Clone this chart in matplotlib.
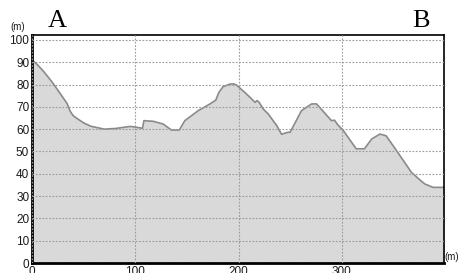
import matplotlib
matplotlib.use("Agg")
import matplotlib.pyplot as plt

# elevation profile (distance in m, altitude in m)
dist = [0, 5, 11, 20, 28, 34, 37, 40, 44.5, 50, 57, 70, 81, 95, 99, 107,
        108.4, 117.5, 127, 135, 142.6, 148, 161, 172, 178, 181, 185, 191.7,
        195, 198, 206, 211, 216, 218, 220, 224, 228.8, 237, 241.7, 248, 250,
        261, 270.8, 275.6, 290, 293, 296, 301.4, 314, 322, 329, 337, 343,
        353, 367.5, 375, 380.5, 388.5, 398, 399]
alt = [91, 89, 86, 80.8, 75.5, 71.5, 68, 66, 64.5, 62.8, 61.3, 60, 60.3,
       61.2, 61, 60.4, 63.8, 63.5, 62.3, 59.6, 59.6, 63.8, 68.3, 71.2, 73,
       76.5, 79, 80.2, 80.3, 79.8, 76.5, 74.3, 72, 72.8, 72, 69, 66.8, 61.6,
       57.7, 58.6, 58.6, 68.3, 71.3, 71.3, 63.8, 64, 62, 59.4, 51.2, 51.2,
       55.6, 57.8, 57, 50.4, 40.6, 37.5, 35.4, 33.9, 33.9, 34]

x_ticks = [0, 100, 200, 300]
y_ticks = [0, 10, 20, 30, 40, 50, 60, 70, 80, 90, 100]

fig = plt.figure(figsize=(4.6, 2.73), dpi=100)
ax = fig.add_axes([32 / 460, 1 - 263 / 273, 412 / 460, 228 / 273])

ax.fill_between(dist, alt, 0, color="#d9d9d9", lw=0)
ax.plot(dist, alt, color="#8a8a8a", lw=1.2)

ax.set_xlim(0, 399)
ax.set_ylim(0, 102.2)
ax.set_xticks(x_ticks)
ax.set_yticks(y_ticks)
ax.grid(True, color="#9a9a9a", linestyle=(0, (1.5, 1.5)), linewidth=0.8)
ax.set_axisbelow(False)

for side in ["left", "bottom"]:
    ax.spines[side].set_linewidth(2)
for side in ["top", "right"]:
    ax.spines[side].set_linewidth(1.2)
ax.tick_params(length=0, pad=2, labelsize=8.5, labelcolor="#1a1a1a")
for lab in ax.get_xticklabels() + ax.get_yticklabels():
    lab.set_family("Liberation Sans")

fig.text(18 / 460, 1 - 30 / 273, "(m)", fontsize=7, ha="center",
         family="Liberation Sans", color="#1a1a1a")
fig.text(452 / 460, 1 - 260 / 273, "(m)", fontsize=7, ha="center",
         family="Liberation Sans", color="#1a1a1a")
fig.text(57 / 460, 1 - 21 / 273, "A", fontsize=19, ha="center", va="center",
         family="Liberation Serif")
fig.text(421 / 460, 1 - 21 / 273, "B", fontsize=19, ha="center", va="center",
         family="Liberation Serif")

fig.savefig("out.png", dpi=100)
